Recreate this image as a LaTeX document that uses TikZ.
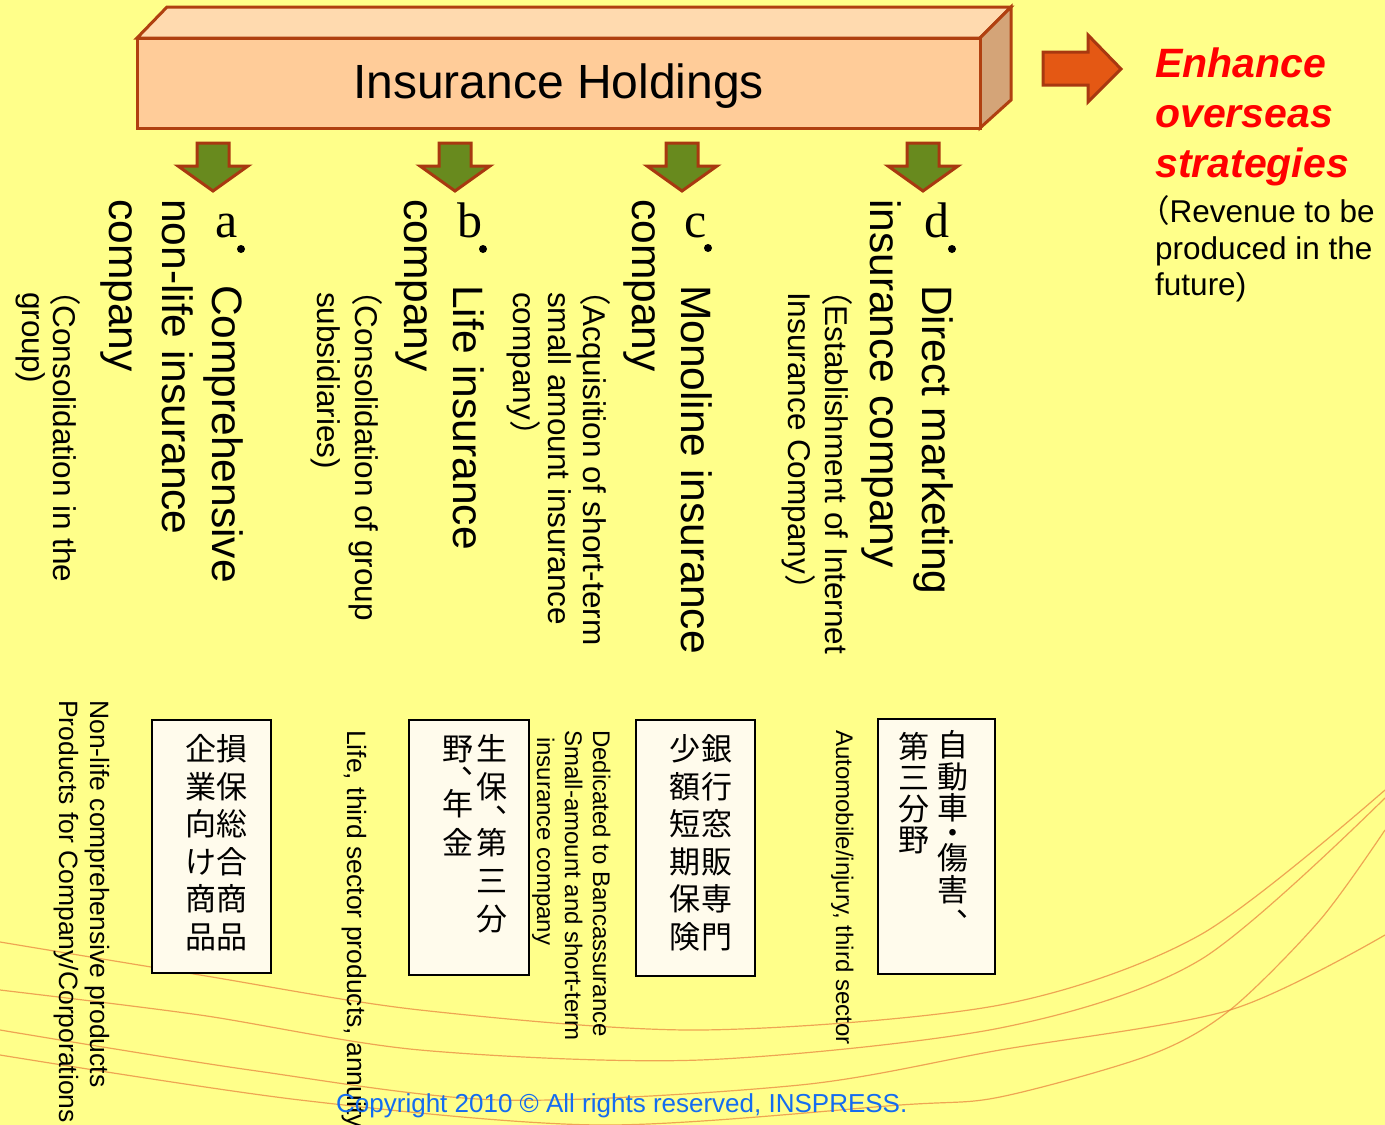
\documentclass[tikz,border=0pt]{standalone}
\usepackage{fontspec}
\setmainfont{Liberation Sans}
\newfontfamily\cjk{Noto Sans CJK JP}
\newfontfamily\serif{Liberation Serif}
\usetikzlibrary{positioning}

\definecolor{bgyellow}{RGB}{255,255,138}
\definecolor{boxfront}{RGB}{255,204,153}
\definecolor{boxtop}{RGB}{255,218,175}
\definecolor{boxside}{RGB}{212,164,120}
\definecolor{boxedge}{RGB}{176,64,16}
\definecolor{arrowgreen}{RGB}{104,138,30}
\definecolor{arrowedge}{RGB}{168,56,16}
\definecolor{arroworange}{RGB}{228,88,20}
\definecolor{cream}{RGB}{255,251,236}
\definecolor{copyblue}{RGB}{20,108,240}
\definecolor{pencil}{RGB}{232,128,60}

\tikzset{
    vtxt/.style={rotate=-90, anchor=base west, inner sep=0pt},
    title/.style={vtxt, font=\fontsize{42.5}{50}\selectfont},
    sub/.style={vtxt, font=\fontsize{31.5}{36}\selectfont},
    note/.style={vtxt, font=\fontsize{26.5}{30}\selectfont},
    smallnote/.style={vtxt, font=\fontsize{24}{28}\selectfont},
    letter/.style={anchor=base, inner sep=0pt, font=\serif\fontsize{50}{50}\selectfont},
    kanji/.style={inner sep=0pt, text height=22pt, text depth=0pt,
        font=\cjk\fontsize{31}{37}\selectfont},
    prodbox/.style={draw=black, line width=2.5pt, fill=cream, inner sep=0pt},
    blockarrow/.style={draw=arrowedge, line width=3pt, line join=miter},
    facet/.style={draw=boxedge, line width=3pt},
    enhance/.style={anchor=base west, inner sep=0pt, text=red,
        font=\fontsize{41}{48}\bfseries\itshape},
    revenue/.style={anchor=base west, inner sep=0pt, font=\fontsize{31.5}{36}\selectfont},
}

\begin{document}
\begin{tikzpicture}[x=1pt, y=-1pt]
    \useasboundingbox (0,0) rectangle (1385,1125);
    \clip (0,0) rectangle (1385,1125);
    \fill[bgyellow] (0,0) rectangle (1385,1125);

    % pencil strokes in the lower part
    \begin{scope}[draw=pencil, line width=1.2pt, opacity=0.7]
        \draw plot[smooth] coordinates {(0,942) (200,975) (420,1010) (700,1030) (1000,1005) (1200,935) (1385,790)};
        \draw plot[smooth] coordinates {(0,990) (200,1015) (420,1050) (700,1060) (1000,1028) (1200,960) (1385,798)};
        \draw plot[smooth] coordinates {(0,1030) (250,1070) (500,1100) (800,1085) (1000,1050) (1230,1010) (1385,935)};
        \draw plot[smooth] coordinates {(0,1055) (300,1100) (600,1125) (900,1105) (1000,1097) (1150,1055) (1230,1010) (1320,920) (1385,830)};
    \end{scope}

    % Holding company block
    \draw[facet, fill=boxtop] (137,38) -- (167,7) -- (1011,7) -- (980,38) -- cycle;
    \draw[facet, fill=boxside] (980,38) -- (1011,7) -- (1011,100) -- (980,128) -- cycle;
    \node[facet, fill=boxfront, inner sep=0pt,
        minimum width=843pt, minimum height=90pt,
        text height=35pt, text depth=5pt, font=\fontsize{48}{56}\selectfont]
        (holding) at (558.5,83) {Insurance Holdings};

    % down arrows to the four companies
    \foreach \x in {213,455,682,923}
        \draw[blockarrow, fill=arrowgreen]
            (\x-16,143) -- (\x+16,143) -- (\x+16,166) -- (\x+35,166)
            -- (\x,191) -- (\x-35,166) -- (\x-16,166) -- cycle;

    % overseas arrow and text
    \draw[blockarrow, fill=arroworange]
        (1043,52) -- (1088,52) -- (1088,35) -- (1121,69)
        -- (1088,102) -- (1088,85) -- (1043,85) -- cycle;
    \node[enhance] (enh1) at (1155,77) {Enhance};
    \node[enhance] (enh2) at (1155,127) {overseas};
    \node[enhance] (enh3) at (1155,177) {strategies};
    \node[revenue] (rev1) at (1138,222) {{\cjk （}Revenue to be};
    \node[revenue] (rev2) at (1155,259) {produced in the};
    \node[revenue] (rev3) at (1155,295) {future)};

    % a. comprehensive non-life
    \node[letter] (la) at (226.5,237) {a};
    \fill (241,249) circle (4pt);
    \node[title] (a1) at (212,285) {Comprehensive};
    \node[title] (a2) at (162,199) {non-life insurance};
    \node[title] (a3) at (109,199) {company};
    \node[sub] (a4) at (53,274) {{\cjk （}Consolidation in the};
    \node[sub] (a5) at (22,292) {group)};
    \node[note] (a6) at (90,700) {Non-life comprehensive products};
    \node[note] (a7) at (59,700) {Products for Company/Corporations};

    % b. life
    \node[letter] (lb) at (470,237) {b};
    \fill (483,249) circle (4pt);
    \node[title] (b1) at (453,285) {Life insurance};
    \node[title] (b2) at (404,199) {company};
    \node[sub] (b3) at (355,274) {{\cjk （}Consolidation of group};
    \node[sub] (b4) at (317,292) {subsidiaries)};
    \node[note] (b5) at (347,730) {Life, third sector products, annuity};

    % c. monoline
    \node[letter] (lc) at (696,237) {c};
    \fill (708,248) circle (4pt);
    \node[title] (c1) at (681,285) {Monoline insurance};
    \node[title] (c2) at (632,199) {company};
    \node[sub] (c3) at (583,274) {{\cjk （}Acquisition of short-term};
    \node[sub] (c4) at (548,292) {small amount insurance};
    \node[sub] (c5) at (513,292) {company{\cjk ）}};
    \node[smallnote] (c6) at (593,730) {Dedicated to Bancassurance};
    \node[smallnote] (c7) at (565,730) {Small-amount and short-term};
    \node[smallnote] (c8) at (537,737) {insurance company};

    % d. direct marketing
    \node[letter] (ld) at (936.5,237) {d};
    \fill (952,249) circle (4pt);
    \node[title] (d1) at (922,285) {Direct marketing};
    \node[title] (d2) at (870,199) {insurance company};
    \node[sub] (d3) at (825,274) {{\cjk （}Establishment of Internet};
    \node[sub] (d4) at (788,292) {Insurance Company{\cjk ）}};
    \node[smallnote] (d5) at (836,730) {Automobile/injury, third sector};

    % product boxes
    \node[prodbox, minimum width=119pt, minimum height=253pt] (boxa) at (211.5,846.5) {};
    \node[prodbox, minimum width=120pt, minimum height=255pt] (boxb) at (469,847.5) {};
    \node[prodbox, minimum width=119pt, minimum height=256pt] (boxc) at (695.5,848) {};
    \node[prodbox, minimum width=117pt, minimum height=255pt] (boxd) at (936.5,846.5) {};

    % vertical captions inside the boxes
    \foreach \k/\y [count=\i] in {損/749,保/787,総/824,合/862,商/899,品/937}
        \node[kanji] (ka\i) at (232,\y) {\k};
    \foreach \k/\y [count=\i] in {企/749,業/787,向/824,け/862,商/899,品/937}
        \node[kanji] (kb\i) at (201,\y) {\k};
    \foreach \k/\y [count=\i] in {生/749,保/787,︑/820,第/843,三/881,分/919}
        \node[kanji] (kc\i) at (492,\y) {\k};
    \foreach \k/\y [count=\i] in {野/749,︑/781,年/804,金/843}
        \node[kanji] (kd\i) at (458,\y) {\k};
    \foreach \k/\y [count=\i] in {銀/749,行/787,窓/824,販/862,専/899,門/937}
        \node[kanji] (ke\i) at (717,\y) {\k};
    \foreach \k/\y [count=\i] in {少/749,額/787,短/824,期/862,保/899,険/937}
        \node[kanji] (kf\i) at (685,\y) {\k};
    \foreach \k/\y [count=\i] in {自/745,動/777,車/808,・/833,傷/858,害/890,︑/924}
        \node[kanji] (kg\i) at (953,\y) {\k};
    \foreach \k/\y [count=\i] in {第/747,三/778,分/809,野/840}
        \node[kanji] (kh\i) at (914,\y) {\k};

    % footer
    \node[anchor=base west, inner sep=0pt, text=copyblue, font=\fontsize{26}{30}\selectfont]
        (copy) at (336,1112) {Copyright 2010 \textcopyright{} All rights reserved, INSPRESS.};
\end{tikzpicture}
\end{document}
